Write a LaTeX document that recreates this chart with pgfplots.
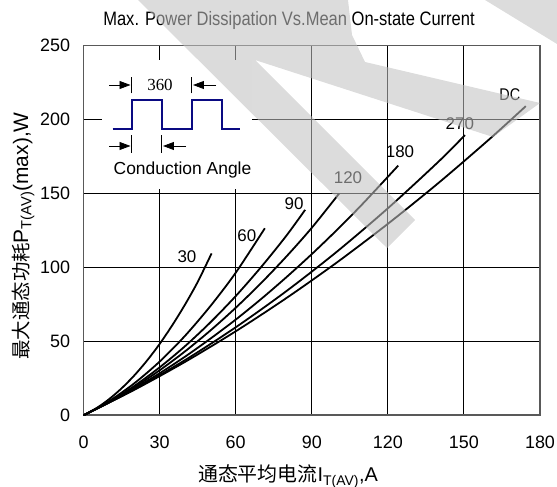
\documentclass[border=0pt]{standalone}
\usepackage{fontspec}
\setmainfont{Liberation Sans}
\newfontfamily\cjk{Noto Sans CJK SC}
\newfontfamily\seriffont{Liberation Serif}
\usepackage{pgfplots}
\pgfplotsset{compat=1.18}
\usetikzlibrary{arrows.meta}
\definecolor{navy}{RGB}{10,10,130}
\definecolor{wmark}{gray}{0.757}
\tikzset{curve/.style={black, solid, line width=1.8bp, smooth, mark=none}}

\begin{document}
\begin{tikzpicture}[x=1bp,y=1bp]
\useasboundingbox (0,0) rectangle (557,487);
\begin{axis}[
    at={(83.5bp,71.7bp)}, anchor=south west,
    scale only axis, width=456.5bp, height=369.6bp,
    xmin=0, xmax=180, ymin=0, ymax=250,
    xtick={0,30,...,180}, ytick={0,50,...,250},
    grid=major, major grid style={black, line width=0.9bp},
    major tick length=0pt,
    axis line style={black!65, line width=1.6bp},
    /pgf/number format/assume math mode=true,
    ticklabel style={font=\fontsize{18}{18}\selectfont},
    xticklabel style={yshift=-17bp},
    yticklabel style={xshift=-10bp},
]
% DC
\addplot[curve] coordinates {(0,0)(20,17.2)(40,36.1)(60,56.8)(80,79.3)(100,103.5)(120,129.5)(140,157.2)(160,186.7)(174.4,209.1)};
% 270
\addplot[curve] coordinates {(0,0)(20,17.5)(40,37.3)(60,59.5)(80,84.0)(100,110.8)(120,140.0)(140,171.6)(150.4,189.5)};
% 180
\addplot[curve] coordinates {(0,0)(10,8.6)(20,18.1)(30,28.4)(40,39.6)(50,51.8)(60,64.7)(70,78.6)(80,93.4)(90,109.0)(100,125.5)(110,142.9)(124.1,168.9)};
% 120
\addplot[curve] coordinates {(0,0)(10,8.8)(20,18.9)(30,30.4)(40,43.2)(50,57.3)(60,72.7)(70,89.4)(80,107.4)(90,126.8)(100.8,150.0)};
% 90
\addplot[curve] coordinates {(0,0)(10,9.0)(20,19.8)(30,32.4)(40,46.7)(50,62.8)(60,80.6)(70,100.2)(80,121.5)(87.4,139.0)};
% 60
\addplot[curve] coordinates {(0,0)(10,9.5)(20,21.6)(30,36.3)(40,53.7)(50,73.8)(60,96.4)(71.5,126.5)};
% 30
\addplot[curve] coordinates {(0,0)(5,4.7)(10,10.8)(15,18.2)(20,26.9)(25,36.9)(30,48.2)(35,60.9)(40,74.8)(45,90.1)(50.5,109.5)};

\begin{scope}[every node/.style={font=\fontsize{17}{17}\selectfont}]
\node at (axis cs:40.8,107) {30};
\node at (axis cs:64.4,121.8) {60};
\node at (axis cs:83.0,143.4) {90};
\node at (axis cs:104.3,161.0) {120};
\node at (axis cs:124.8,178.6) {180};
\node at (axis cs:148.4,197.5) {270};
\node at (axis cs:168.1,217.1) {\scalebox{0.85}[1]{DC}};
\end{scope}
\end{axis}

% title and axis labels
\node[anchor=base] at (289,461) {\scalebox{0.85}[1]{\fontsize{19.5}{20}\selectfont Max. Power Dissipation Vs.Mean On-state Current}};
\node[anchor=base] at (288,5) {{\cjk\fontsize{20}{20}\selectfont 通态平均电流}{\fontsize{20}{20}\selectfont I\textsubscript{T(AV)},A}};
\node[anchor=base, rotate=90] at (28,251) {{\cjk\fontsize{19.5}{20}\selectfont 最大通态功耗}{\fontsize{21}{21}\selectfont P\textsubscript{T(AV)}(max),W}};

% inset: conduction angle sketch
\fill[white] (102,298) rectangle (252,427);
\draw[navy, line width=1.8] (112.7,358) -| (131.7,387) -| (161.7,358) -| (191.7,387) -| (221.7,358) -- (240,358);
\draw[line width=0.8] (131.7,393.7) -- (131.7,410.3) (191.7,393.7) -- (191.7,410.3);
\draw[line width=0.8] (131.7,334) -- (131.7,352) (161.7,334) -- (161.7,352);
\draw[line width=0.8, -{Triangle[length=11,width=8]}] (109,402) -- (130.5,402);
\draw[line width=0.8, -{Triangle[length=11,width=8]}] (216,402) -- (193,402);
\draw[line width=0.8, -{Triangle[length=11,width=8]}] (109,341) -- (130.5,341);
\draw[line width=0.8, -{Triangle[length=11,width=8]}] (186,341) -- (163,341);
\node[font=\seriffont\fontsize{17}{17}\selectfont] at (160,402) {360};
\node[font=\fontsize{17.5}{18}\selectfont] at (182.5,317) {Conduction Angle};

% light grey watermark over the sheet
\fill[wmark, opacity=0.57] (138,487) -- (348,487) -- (352,452) -- (365,425) -- (540,384)
    -- (493,350) -- (255,427) -- (415,267) -- (387,239) -- cycle;
\fill[wmark, opacity=0.57] (485,487) -- (557,487) -- (557,443) -- cycle;
\end{tikzpicture}
\end{document}
